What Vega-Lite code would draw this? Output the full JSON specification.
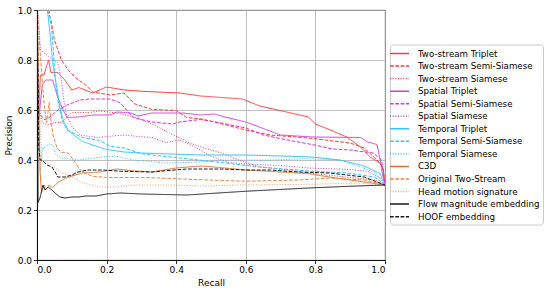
{
"$schema":"https://vega.github.io/schema/vega-lite/v6.json",
"autosize":{"type":"none"},
"padding":{"left":37,"top":10,"right":163,"bottom":33},
"width":348,"height":250,
"background":"white",
"config":{"view":{"stroke":"black","strokeWidth":0.9},"font":"DejaVu Sans"},
"data":{"values":[
{"s":"Two-stream Triplet","r":0.003,"p":0.55},{"s":"Two-stream Triplet","r":0.01,"p":0.74},{"s":"Two-stream Triplet","r":0.02,"p":0.74},{"s":"Two-stream Triplet","r":0.033,"p":0.8},{"s":"Two-stream Triplet","r":0.04,"p":0.75},{"s":"Two-stream Triplet","r":0.06,"p":0.75},{"s":"Two-stream Triplet","r":0.08,"p":0.72},{"s":"Two-stream Triplet","r":0.1,"p":0.68},{"s":"Two-stream Triplet","r":0.12,"p":0.69},{"s":"Two-stream Triplet","r":0.16,"p":0.668},{"s":"Two-stream Triplet","r":0.2,"p":0.692},{"s":"Two-stream Triplet","r":0.25,"p":0.68},{"s":"Two-stream Triplet","r":0.3,"p":0.675},{"s":"Two-stream Triplet","r":0.41,"p":0.668},{"s":"Two-stream Triplet","r":0.47,"p":0.656},{"s":"Two-stream Triplet","r":0.59,"p":0.644},{"s":"Two-stream Triplet","r":0.64,"p":0.616},{"s":"Two-stream Triplet","r":0.73,"p":0.588},{"s":"Two-stream Triplet","r":0.78,"p":0.572},{"s":"Two-stream Triplet","r":0.8,"p":0.544},{"s":"Two-stream Triplet","r":0.85,"p":0.516},{"s":"Two-stream Triplet","r":0.89,"p":0.492},{"s":"Two-stream Triplet","r":0.93,"p":0.452},{"s":"Two-stream Triplet","r":0.957,"p":0.412},{"s":"Two-stream Triplet","r":0.986,"p":0.388},{"s":"Two-stream Triplet","r":0.995,"p":0.36},{"s":"Two-stream Triplet","r":1.0,"p":0.3},
{"s":"Two-stream Semi-Siamese","r":0.03,"p":1.0},{"s":"Two-stream Semi-Siamese","r":0.04,"p":0.96},{"s":"Two-stream Semi-Siamese","r":0.05,"p":0.88},{"s":"Two-stream Semi-Siamese","r":0.07,"p":0.8},{"s":"Two-stream Semi-Siamese","r":0.09,"p":0.76},{"s":"Two-stream Semi-Siamese","r":0.11,"p":0.73},{"s":"Two-stream Semi-Siamese","r":0.14,"p":0.7},{"s":"Two-stream Semi-Siamese","r":0.16,"p":0.672},{"s":"Two-stream Semi-Siamese","r":0.21,"p":0.66},{"s":"Two-stream Semi-Siamese","r":0.25,"p":0.668},{"s":"Two-stream Semi-Siamese","r":0.28,"p":0.625},{"s":"Two-stream Semi-Siamese","r":0.33,"p":0.602},{"s":"Two-stream Semi-Siamese","r":0.4,"p":0.598},{"s":"Two-stream Semi-Siamese","r":0.43,"p":0.57},{"s":"Two-stream Semi-Siamese","r":0.47,"p":0.565},{"s":"Two-stream Semi-Siamese","r":0.53,"p":0.545},{"s":"Two-stream Semi-Siamese","r":0.6,"p":0.52},{"s":"Two-stream Semi-Siamese","r":0.67,"p":0.5},{"s":"Two-stream Semi-Siamese","r":0.78,"p":0.488},{"s":"Two-stream Semi-Siamese","r":0.9,"p":0.468},{"s":"Two-stream Semi-Siamese","r":0.94,"p":0.448},{"s":"Two-stream Semi-Siamese","r":0.977,"p":0.4},{"s":"Two-stream Semi-Siamese","r":0.994,"p":0.372},{"s":"Two-stream Semi-Siamese","r":1.0,"p":0.3},
{"s":"Two-stream Siamese","r":0.005,"p":0.62},{"s":"Two-stream Siamese","r":0.015,"p":0.55},{"s":"Two-stream Siamese","r":0.03,"p":0.54},{"s":"Two-stream Siamese","r":0.05,"p":0.55},{"s":"Two-stream Siamese","r":0.07,"p":0.55},{"s":"Two-stream Siamese","r":0.1,"p":0.59},{"s":"Two-stream Siamese","r":0.15,"p":0.59},{"s":"Two-stream Siamese","r":0.18,"p":0.596},{"s":"Two-stream Siamese","r":0.23,"p":0.588},{"s":"Two-stream Siamese","r":0.28,"p":0.572},{"s":"Two-stream Siamese","r":0.33,"p":0.545},{"s":"Two-stream Siamese","r":0.38,"p":0.508},{"s":"Two-stream Siamese","r":0.44,"p":0.468},{"s":"Two-stream Siamese","r":0.48,"p":0.448},{"s":"Two-stream Siamese","r":0.53,"p":0.428},{"s":"Two-stream Siamese","r":0.58,"p":0.4},{"s":"Two-stream Siamese","r":0.64,"p":0.372},{"s":"Two-stream Siamese","r":0.72,"p":0.36},{"s":"Two-stream Siamese","r":0.8,"p":0.345},{"s":"Two-stream Siamese","r":0.9,"p":0.33},{"s":"Two-stream Siamese","r":0.97,"p":0.32},{"s":"Two-stream Siamese","r":1.0,"p":0.3},
{"s":"Spatial Triplet","r":0.005,"p":0.56},{"s":"Spatial Triplet","r":0.015,"p":0.7},{"s":"Spatial Triplet","r":0.025,"p":0.72},{"s":"Spatial Triplet","r":0.045,"p":0.72},{"s":"Spatial Triplet","r":0.06,"p":0.65},{"s":"Spatial Triplet","r":0.075,"p":0.6},{"s":"Spatial Triplet","r":0.086,"p":0.57},{"s":"Spatial Triplet","r":0.12,"p":0.572},{"s":"Spatial Triplet","r":0.16,"p":0.58},{"s":"Spatial Triplet","r":0.21,"p":0.58},{"s":"Spatial Triplet","r":0.23,"p":0.592},{"s":"Spatial Triplet","r":0.27,"p":0.588},{"s":"Spatial Triplet","r":0.29,"p":0.576},{"s":"Spatial Triplet","r":0.33,"p":0.588},{"s":"Spatial Triplet","r":0.42,"p":0.588},{"s":"Spatial Triplet","r":0.47,"p":0.58},{"s":"Spatial Triplet","r":0.51,"p":0.584},{"s":"Spatial Triplet","r":0.54,"p":0.572},{"s":"Spatial Triplet","r":0.6,"p":0.552},{"s":"Spatial Triplet","r":0.7,"p":0.5},{"s":"Spatial Triplet","r":0.79,"p":0.492},{"s":"Spatial Triplet","r":0.93,"p":0.49},{"s":"Spatial Triplet","r":0.95,"p":0.472},{"s":"Spatial Triplet","r":0.977,"p":0.462},{"s":"Spatial Triplet","r":0.986,"p":0.4},{"s":"Spatial Triplet","r":0.993,"p":0.34},{"s":"Spatial Triplet","r":1.0,"p":0.3},
{"s":"Spatial Semi-Siamese","r":0.01,"p":0.58},{"s":"Spatial Semi-Siamese","r":0.023,"p":0.56},{"s":"Spatial Semi-Siamese","r":0.037,"p":0.572},{"s":"Spatial Semi-Siamese","r":0.06,"p":0.6},{"s":"Spatial Semi-Siamese","r":0.086,"p":0.62},{"s":"Spatial Semi-Siamese","r":0.124,"p":0.64},{"s":"Spatial Semi-Siamese","r":0.152,"p":0.644},{"s":"Spatial Semi-Siamese","r":0.21,"p":0.644},{"s":"Spatial Semi-Siamese","r":0.24,"p":0.628},{"s":"Spatial Semi-Siamese","r":0.276,"p":0.57},{"s":"Spatial Semi-Siamese","r":0.33,"p":0.552},{"s":"Spatial Semi-Siamese","r":0.39,"p":0.544},{"s":"Spatial Semi-Siamese","r":0.41,"p":0.552},{"s":"Spatial Semi-Siamese","r":0.47,"p":0.562},{"s":"Spatial Semi-Siamese","r":0.53,"p":0.548},{"s":"Spatial Semi-Siamese","r":0.6,"p":0.528},{"s":"Spatial Semi-Siamese","r":0.65,"p":0.5},{"s":"Spatial Semi-Siamese","r":0.72,"p":0.48},{"s":"Spatial Semi-Siamese","r":0.79,"p":0.462},{"s":"Spatial Semi-Siamese","r":0.85,"p":0.444},{"s":"Spatial Semi-Siamese","r":0.9,"p":0.44},{"s":"Spatial Semi-Siamese","r":0.966,"p":0.428},{"s":"Spatial Semi-Siamese","r":0.99,"p":0.4},{"s":"Spatial Semi-Siamese","r":1.0,"p":0.3},
{"s":"Spatial Siamese","r":0.003,"p":0.98},{"s":"Spatial Siamese","r":0.01,"p":0.84},{"s":"Spatial Siamese","r":0.037,"p":0.81},{"s":"Spatial Siamese","r":0.06,"p":0.79},{"s":"Spatial Siamese","r":0.07,"p":0.72},{"s":"Spatial Siamese","r":0.078,"p":0.63},{"s":"Spatial Siamese","r":0.085,"p":0.58},{"s":"Spatial Siamese","r":0.095,"p":0.55},{"s":"Spatial Siamese","r":0.103,"p":0.528},{"s":"Spatial Siamese","r":0.124,"p":0.5},{"s":"Spatial Siamese","r":0.172,"p":0.49},{"s":"Spatial Siamese","r":0.21,"p":0.495},{"s":"Spatial Siamese","r":0.25,"p":0.5},{"s":"Spatial Siamese","r":0.29,"p":0.494},{"s":"Spatial Siamese","r":0.33,"p":0.49},{"s":"Spatial Siamese","r":0.37,"p":0.47},{"s":"Spatial Siamese","r":0.41,"p":0.48},{"s":"Spatial Siamese","r":0.45,"p":0.455},{"s":"Spatial Siamese","r":0.5,"p":0.415},{"s":"Spatial Siamese","r":0.55,"p":0.39},{"s":"Spatial Siamese","r":0.62,"p":0.382},{"s":"Spatial Siamese","r":0.7,"p":0.378},{"s":"Spatial Siamese","r":0.78,"p":0.368},{"s":"Spatial Siamese","r":0.9,"p":0.362},{"s":"Spatial Siamese","r":0.95,"p":0.355},{"s":"Spatial Siamese","r":0.985,"p":0.33},{"s":"Spatial Siamese","r":1.0,"p":0.3},
{"s":"Temporal Triplet","r":0.03,"p":1.0},{"s":"Temporal Triplet","r":0.037,"p":0.91},{"s":"Temporal Triplet","r":0.046,"p":0.78},{"s":"Temporal Triplet","r":0.057,"p":0.69},{"s":"Temporal Triplet","r":0.066,"p":0.61},{"s":"Temporal Triplet","r":0.075,"p":0.56},{"s":"Temporal Triplet","r":0.089,"p":0.52},{"s":"Temporal Triplet","r":0.11,"p":0.495},{"s":"Temporal Triplet","r":0.13,"p":0.475},{"s":"Temporal Triplet","r":0.16,"p":0.46},{"s":"Temporal Triplet","r":0.2,"p":0.442},{"s":"Temporal Triplet","r":0.25,"p":0.432},{"s":"Temporal Triplet","r":0.3,"p":0.428},{"s":"Temporal Triplet","r":0.47,"p":0.42},{"s":"Temporal Triplet","r":0.6,"p":0.42},{"s":"Temporal Triplet","r":0.7,"p":0.416},{"s":"Temporal Triplet","r":0.79,"p":0.412},{"s":"Temporal Triplet","r":0.87,"p":0.4},{"s":"Temporal Triplet","r":0.93,"p":0.38},{"s":"Temporal Triplet","r":0.95,"p":0.37},{"s":"Temporal Triplet","r":0.986,"p":0.345},{"s":"Temporal Triplet","r":1.0,"p":0.3},
{"s":"Temporal Semi-Siamese","r":0.035,"p":1.0},{"s":"Temporal Semi-Siamese","r":0.043,"p":0.91},{"s":"Temporal Semi-Siamese","r":0.047,"p":0.84},{"s":"Temporal Semi-Siamese","r":0.052,"p":0.73},{"s":"Temporal Semi-Siamese","r":0.06,"p":0.64},{"s":"Temporal Semi-Siamese","r":0.072,"p":0.56},{"s":"Temporal Semi-Siamese","r":0.086,"p":0.52},{"s":"Temporal Semi-Siamese","r":0.13,"p":0.49},{"s":"Temporal Semi-Siamese","r":0.18,"p":0.478},{"s":"Temporal Semi-Siamese","r":0.21,"p":0.455},{"s":"Temporal Semi-Siamese","r":0.25,"p":0.448},{"s":"Temporal Semi-Siamese","r":0.3,"p":0.425},{"s":"Temporal Semi-Siamese","r":0.33,"p":0.42},{"s":"Temporal Semi-Siamese","r":0.43,"p":0.405},{"s":"Temporal Semi-Siamese","r":0.53,"p":0.39},{"s":"Temporal Semi-Siamese","r":0.64,"p":0.372},{"s":"Temporal Semi-Siamese","r":0.78,"p":0.356},{"s":"Temporal Semi-Siamese","r":0.89,"p":0.348},{"s":"Temporal Semi-Siamese","r":0.97,"p":0.332},{"s":"Temporal Semi-Siamese","r":1.0,"p":0.3},
{"s":"Temporal Siamese","r":0.009,"p":0.36},{"s":"Temporal Siamese","r":0.017,"p":0.448},{"s":"Temporal Siamese","r":0.037,"p":0.465},{"s":"Temporal Siamese","r":0.045,"p":0.46},{"s":"Temporal Siamese","r":0.055,"p":0.42},{"s":"Temporal Siamese","r":0.072,"p":0.408},{"s":"Temporal Siamese","r":0.118,"p":0.4},{"s":"Temporal Siamese","r":0.187,"p":0.412},{"s":"Temporal Siamese","r":0.224,"p":0.416},{"s":"Temporal Siamese","r":0.28,"p":0.4},{"s":"Temporal Siamese","r":0.37,"p":0.388},{"s":"Temporal Siamese","r":0.47,"p":0.392},{"s":"Temporal Siamese","r":0.53,"p":0.4},{"s":"Temporal Siamese","r":0.67,"p":0.4},{"s":"Temporal Siamese","r":0.78,"p":0.405},{"s":"Temporal Siamese","r":0.87,"p":0.4},{"s":"Temporal Siamese","r":0.93,"p":0.372},{"s":"Temporal Siamese","r":0.97,"p":0.35},{"s":"Temporal Siamese","r":1.0,"p":0.3},
{"s":"C3D","r":0.001,"p":1.0},{"s":"C3D","r":0.005,"p":0.6},{"s":"C3D","r":0.009,"p":0.35},{"s":"C3D","r":0.013,"p":0.27},{"s":"C3D","r":0.02,"p":0.3},{"s":"C3D","r":0.025,"p":0.28},{"s":"C3D","r":0.035,"p":0.3},{"s":"C3D","r":0.045,"p":0.29},{"s":"C3D","r":0.06,"p":0.31},{"s":"C3D","r":0.086,"p":0.33},{"s":"C3D","r":0.13,"p":0.348},{"s":"C3D","r":0.18,"p":0.352},{"s":"C3D","r":0.23,"p":0.364},{"s":"C3D","r":0.28,"p":0.356},{"s":"C3D","r":0.33,"p":0.352},{"s":"C3D","r":0.4,"p":0.368},{"s":"C3D","r":0.47,"p":0.376},{"s":"C3D","r":0.51,"p":0.372},{"s":"C3D","r":0.6,"p":0.36},{"s":"C3D","r":0.7,"p":0.352},{"s":"C3D","r":0.78,"p":0.345},{"s":"C3D","r":0.84,"p":0.332},{"s":"C3D","r":0.94,"p":0.312},{"s":"C3D","r":1.0,"p":0.3},
{"s":"Original Two-Stream","r":0.002,"p":1.0},{"s":"Original Two-Stream","r":0.008,"p":0.85},{"s":"Original Two-Stream","r":0.015,"p":0.72},{"s":"Original Two-Stream","r":0.022,"p":0.6},{"s":"Original Two-Stream","r":0.028,"p":0.55},{"s":"Original Two-Stream","r":0.035,"p":0.63},{"s":"Original Two-Stream","r":0.04,"p":0.56},{"s":"Original Two-Stream","r":0.046,"p":0.5},{"s":"Original Two-Stream","r":0.057,"p":0.45},{"s":"Original Two-Stream","r":0.07,"p":0.43},{"s":"Original Two-Stream","r":0.09,"p":0.428},{"s":"Original Two-Stream","r":0.11,"p":0.39},{"s":"Original Two-Stream","r":0.12,"p":0.368},{"s":"Original Two-Stream","r":0.13,"p":0.352},{"s":"Original Two-Stream","r":0.16,"p":0.335},{"s":"Original Two-Stream","r":0.2,"p":0.33},{"s":"Original Two-Stream","r":0.3,"p":0.33},{"s":"Original Two-Stream","r":0.35,"p":0.328},{"s":"Original Two-Stream","r":0.45,"p":0.322},{"s":"Original Two-Stream","r":0.6,"p":0.315},{"s":"Original Two-Stream","r":0.75,"p":0.32},{"s":"Original Two-Stream","r":0.84,"p":0.328},{"s":"Original Two-Stream","r":0.94,"p":0.32},{"s":"Original Two-Stream","r":1.0,"p":0.3},
{"s":"Head motion signature","r":0.002,"p":0.95},{"s":"Head motion signature","r":0.006,"p":0.7},{"s":"Head motion signature","r":0.01,"p":0.5},{"s":"Head motion signature","r":0.015,"p":0.38},{"s":"Head motion signature","r":0.03,"p":0.39},{"s":"Head motion signature","r":0.05,"p":0.37},{"s":"Head motion signature","r":0.07,"p":0.35},{"s":"Head motion signature","r":0.09,"p":0.34},{"s":"Head motion signature","r":0.13,"p":0.31},{"s":"Head motion signature","r":0.18,"p":0.292},{"s":"Head motion signature","r":0.23,"p":0.292},{"s":"Head motion signature","r":0.28,"p":0.3},{"s":"Head motion signature","r":0.37,"p":0.3},{"s":"Head motion signature","r":0.47,"p":0.296},{"s":"Head motion signature","r":0.6,"p":0.3},{"s":"Head motion signature","r":0.75,"p":0.302},{"s":"Head motion signature","r":0.85,"p":0.305},{"s":"Head motion signature","r":0.95,"p":0.305},{"s":"Head motion signature","r":1.0,"p":0.3},
{"s":"Flow magnitude embedding","r":0.001,"p":1.0},{"s":"Flow magnitude embedding","r":0.003,"p":0.23},{"s":"Flow magnitude embedding","r":0.009,"p":0.25},{"s":"Flow magnitude embedding","r":0.017,"p":0.3},{"s":"Flow magnitude embedding","r":0.023,"p":0.28},{"s":"Flow magnitude embedding","r":0.032,"p":0.292},{"s":"Flow magnitude embedding","r":0.043,"p":0.28},{"s":"Flow magnitude embedding","r":0.052,"p":0.268},{"s":"Flow magnitude embedding","r":0.066,"p":0.252},{"s":"Flow magnitude embedding","r":0.08,"p":0.248},{"s":"Flow magnitude embedding","r":0.1,"p":0.252},{"s":"Flow magnitude embedding","r":0.12,"p":0.252},{"s":"Flow magnitude embedding","r":0.14,"p":0.256},{"s":"Flow magnitude embedding","r":0.17,"p":0.256},{"s":"Flow magnitude embedding","r":0.2,"p":0.264},{"s":"Flow magnitude embedding","r":0.24,"p":0.268},{"s":"Flow magnitude embedding","r":0.3,"p":0.264},{"s":"Flow magnitude embedding","r":0.43,"p":0.26},{"s":"Flow magnitude embedding","r":0.6,"p":0.275},{"s":"Flow magnitude embedding","r":0.78,"p":0.288},{"s":"Flow magnitude embedding","r":0.9,"p":0.295},{"s":"Flow magnitude embedding","r":1.0,"p":0.3},
{"s":"HOOF embedding","r":0.001,"p":1.0},{"s":"HOOF embedding","r":0.005,"p":0.45},{"s":"HOOF embedding","r":0.009,"p":0.4},{"s":"HOOF embedding","r":0.014,"p":0.4},{"s":"HOOF embedding","r":0.029,"p":0.38},{"s":"HOOF embedding","r":0.043,"p":0.372},{"s":"HOOF embedding","r":0.052,"p":0.352},{"s":"HOOF embedding","r":0.06,"p":0.332},{"s":"HOOF embedding","r":0.08,"p":0.332},{"s":"HOOF embedding","r":0.1,"p":0.34},{"s":"HOOF embedding","r":0.118,"p":0.352},{"s":"HOOF embedding","r":0.147,"p":0.36},{"s":"HOOF embedding","r":0.19,"p":0.36},{"s":"HOOF embedding","r":0.24,"p":0.355},{"s":"HOOF embedding","r":0.33,"p":0.352},{"s":"HOOF embedding","r":0.43,"p":0.364},{"s":"HOOF embedding","r":0.53,"p":0.364},{"s":"HOOF embedding","r":0.6,"p":0.36},{"s":"HOOF embedding","r":0.67,"p":0.36},{"s":"HOOF embedding","r":0.75,"p":0.352},{"s":"HOOF embedding","r":0.84,"p":0.348},{"s":"HOOF embedding","r":0.94,"p":0.332},{"s":"HOOF embedding","r":1.0,"p":0.3}
]},
"mark":{"type":"line","strokeWidth":1,"clip":true},
"encoding":{
"x":{"field":"r","type":"quantitative","scale":{"domain":[0,1],"nice":false,"zero":false},
"axis":{"title":"Recall","values":[0,0.2,0.4,0.6,0.8,1.0],"format":".1f","grid":true,"gridColor":"#b0b0b0","gridWidth":0.8,"domainColor":"black","domainWidth":0.9,"tickColor":"black","tickSize":3.5,"tickWidth":0.8,"labelColor":"black","labelFontSize":9,"labelPadding":2,"titleFontSize":9,"titleFontWeight":"normal","titleColor":"black","titlePadding":4,"labelFont":"DejaVu Sans","titleFont":"DejaVu Sans"}},
"y":{"field":"p","type":"quantitative","scale":{"domain":[0,1],"nice":false,"zero":false},
"axis":{"title":"Precision","values":[0,0.2,0.4,0.6,0.8,1.0],"format":".1f","grid":true,"gridColor":"#b0b0b0","gridWidth":0.8,"domainColor":"black","domainWidth":0.9,"tickColor":"black","tickSize":3.5,"tickWidth":0.8,"labelColor":"black","labelFontSize":9,"labelPadding":2,"titleFontSize":9,"titleFontWeight":"normal","titleColor":"black","titlePadding":4,"labelFont":"DejaVu Sans","titleFont":"DejaVu Sans"}},
"color":{"field":"s","type":"nominal","sort":null,
"scale":{"domain":["Two-stream Triplet","Two-stream Semi-Siamese","Two-stream Siamese","Spatial Triplet","Spatial Semi-Siamese","Spatial Siamese","Temporal Triplet","Temporal Semi-Siamese","Temporal Siamese","C3D","Original Two-Stream","Head motion signature","Flow magnitude embedding","HOOF embedding"],
"range":["#ff3b3b","#ff3b3b","#ff3b3b","#cc44cc","#dd33dd","#cc44cc","#33c4ff","#33c4ff","#33c4ff","#d9722e","#e8894a","#f0a070","#1a1a1a","#1a1a1a"]},
"legend":{"title":null,"orient":"none","legendX":353,"legendY":34.5,"symbolType":"M-1.9,0H1.9","symbolSize":100,"symbolOffset":0.5,"symbolStrokeWidth":1.5,"labelFontSize":8.7,"labelFont":"DejaVu Sans","labelColor":"black","labelOffset":12.5,"rowPadding":1.55,"padding":3,"fillColor":"white","strokeColor":"#cccccc","cornerRadius":3,"labelLimit":300}},
"strokeDash":{"field":"s","type":"nominal","sort":null,
"scale":{"domain":["Two-stream Triplet","Two-stream Semi-Siamese","Two-stream Siamese","Spatial Triplet","Spatial Semi-Siamese","Spatial Siamese","Temporal Triplet","Temporal Semi-Siamese","Temporal Siamese","C3D","Original Two-Stream","Head motion signature","Flow magnitude embedding","HOOF embedding"],
"range":[[1,0],[3.7,1.6],[1,1.65],[1,0],[3.7,1.6],[1,1.65],[1,0],[3.7,1.6],[1,1.65],[1,0],[3.7,1.6],[1,1.65],[1,0],[3.7,1.6]]}}
}
}
